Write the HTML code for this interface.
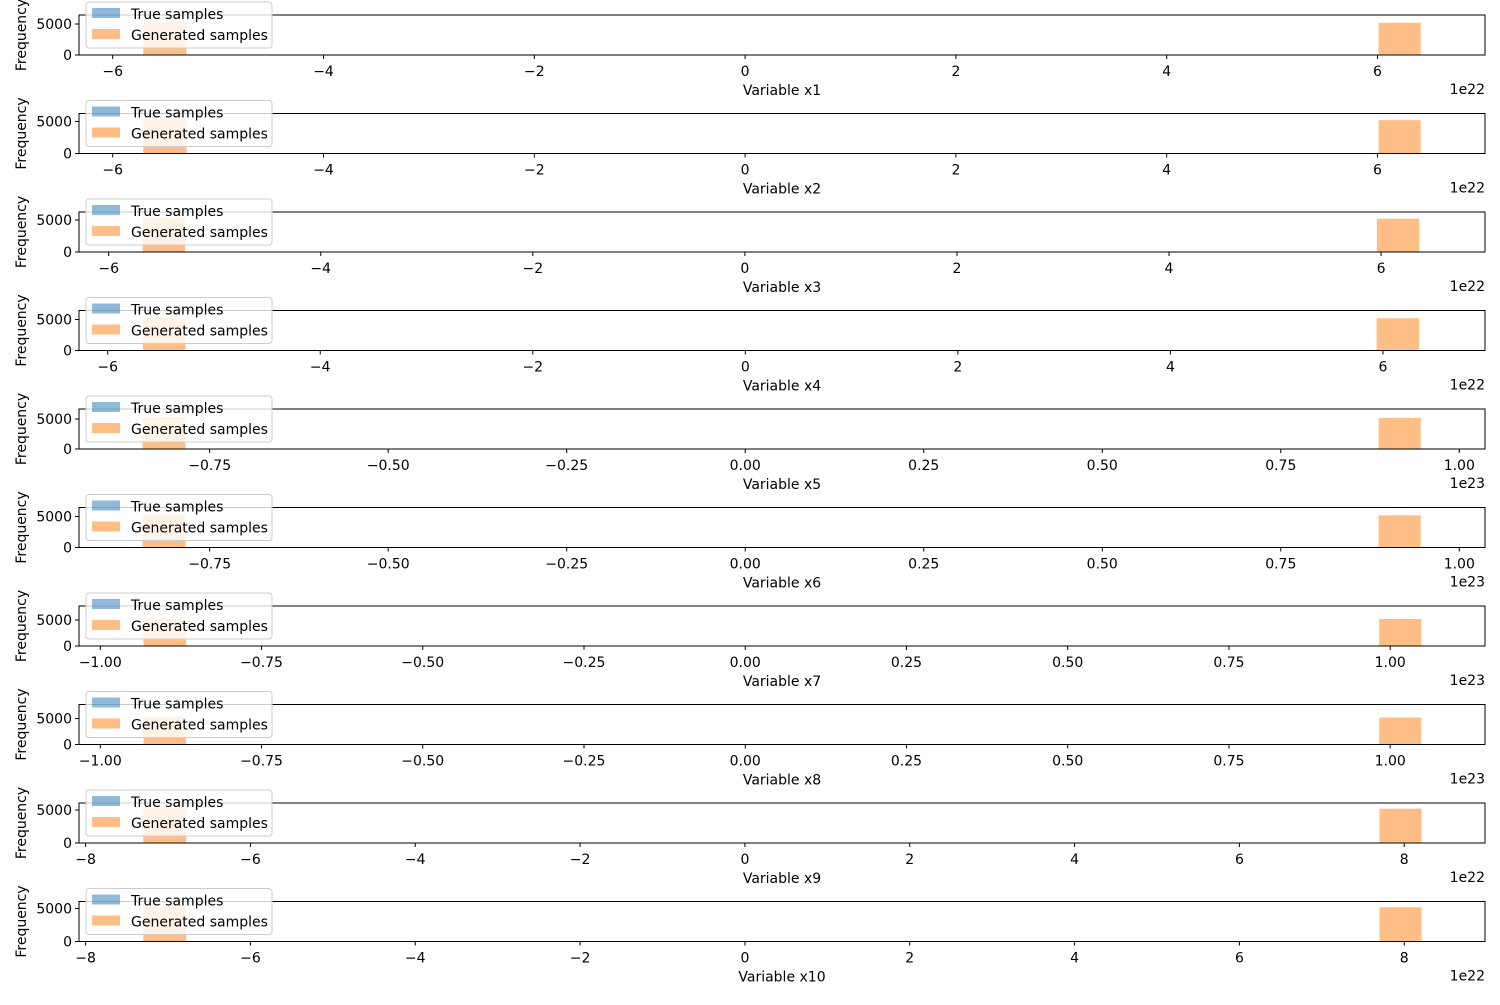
<!DOCTYPE html>
<html><head><meta charset="utf-8"><style>
body{margin:0;background:#fff}
svg text{font-family:"DejaVu Sans","Liberation Sans",sans-serif;font-size:14px;fill:#000}
</style></head><body>
<svg id="chart" width="1500" height="1000" xmlns="http://www.w3.org/2000/svg"></svg>
<script>
// per-row data
const rowLabels = ["Variable x1","Variable x2","Variable x3","Variable x4","Variable x5","Variable x6","Variable x7","Variable x8","Variable x9","Variable x10"];
const xDomains = [[-6.32,7.02],[-6.32,7.02],[-6.28,6.98],[-6.27,6.96],[-0.933,1.036],[-0.933,1.036],[-1.033,1.147],[-1.033,1.147],[-8.08,8.98],[-8.08,8.98]];
const xTicks = [
 [-6,-4,-2,0,2,4,6],[-6,-4,-2,0,2,4,6],[-6,-4,-2,0,2,4,6],[-6,-4,-2,0,2,4,6],
 [-0.75,-0.5,-0.25,0,0.25,0.5,0.75,1.0],[-0.75,-0.5,-0.25,0,0.25,0.5,0.75,1.0],
 [-1.0,-0.75,-0.5,-0.25,0,0.25,0.5,0.75,1.0],[-1.0,-0.75,-0.5,-0.25,0,0.25,0.5,0.75,1.0],
 [-8,-6,-4,-2,0,2,4,6,8],[-8,-6,-4,-2,0,2,4,6,8]];
const tickDecimals = [0,0,0,0,2,2,2,2,0,0];
const offsetTexts = ["1e22","1e22","1e22","1e22","1e23","1e23","1e23","1e23","1e22","1e22"];
const yMax = [6450,6250,6250,6450,6670,6450,7700,7700,6060,6060];
const genBinEdges = [
 [[-5.71,-5.30],[6.01,6.41]],[[-5.71,-5.30],[6.01,6.41]],[[-5.68,-5.28],[5.96,6.36]],[[-5.67,-5.27],[5.94,6.34]],
 [[-0.844,-0.784],[0.887,0.946]],[[-0.844,-0.784],[0.887,0.946]],
 [[-0.933,-0.867],[0.983,1.048]],[[-0.933,-0.867],[0.983,1.048]],
 [[-7.30,-6.78],[7.70,8.21]],[[-7.30,-6.78],[7.70,8.21]]];
const genCounts = [[5300,5200],[5300,5200],[5300,5200],[5300,5200],[5300,5200],[5300,5200],[5300,5200],[5300,5200],[5300,5200],[5300,5200]];

const svg = document.getElementById('chart');
const NS = 'http://www.w3.org/2000/svg';
function mk(tag, attrs, parent){const e=document.createElementNS(NS,tag);for(const k in attrs)e.setAttribute(k,attrs[k]);(parent||svg).appendChild(e);return e;}
const L=79,R=1485,H=40;
rowLabels.forEach((lab,i)=>{
  const top=15+i*98.5, bot=top+H;
  const g=mk('g',{});
  
  
  const [d0,d1]=xDomains[i];
  const xs=v=>L+(v-d0)/(d1-d0)*(R-L);
  const ys=v=>bot-v/yMax[i]*H;
  genBinEdges[i].forEach((b,j)=>{
    const r=mk('rect',{x:xs(b[0]),y:ys(genCounts[i][j]),width:xs(b[1])-xs(b[0]),height:bot-ys(genCounts[i][j]),fill:'#ffbe86'},g);
    
    
  });
  const fr=mk('rect',{x:L,y:top,width:R-L,height:H,fill:'none',stroke:'#000','stroke-width':1},g);
  
  
  xTicks[i].forEach(t=>{
    const x=xs(t);
    mk('line',{x1:x,x2:x,y1:bot,y2:bot+4,stroke:'#000'},g);
    const s=(t<0?'\u2212':'')+Math.abs(t).toFixed(tickDecimals[i]);
    const tx=mk('text',{x:x,y:bot+21,'text-anchor':'middle'},g);tx.textContent=s;
    
    
  });
  [0,5000].forEach(t=>{
    const y=ys(t);
    mk('line',{x1:L-4,x2:L,y1:y,y2:y,stroke:'#000'},g);
    const tx=mk('text',{x:L-7,y:y+5,'text-anchor':'end'},g);tx.textContent=t;
    
    
  });
  const xl=mk('text',{x:(L+R)/2,y:bot+40,'text-anchor':'middle'},g);xl.textContent=lab;
  
  
  const ot=mk('text',{x:R,y:bot+39,'text-anchor':'end'},g);ot.textContent=offsetTexts[i];
  
  
  const yl=mk('text',{x:26,y:bot-20,'text-anchor':'middle',transform:`rotate(-90 26 ${bot-20})`},g);yl.textContent='Frequency';
  
  
  const lg=mk('g',{},g);
  
  
  mk('rect',{x:86,y:top-13,width:186,height:46,rx:3,fill:'#fff','fill-opacity':0.8,stroke:'#ccc'},lg);
  mk('rect',{x:92,y:top-7,width:28,height:10,fill:'#1f77b4','fill-opacity':0.5},lg);
  mk('rect',{x:92,y:top+14,width:28,height:10,fill:'#ffbe86'},lg);
  const l1=mk('text',{x:131,y:top+4},lg);l1.textContent='True samples';
  
  
  const l2=mk('text',{x:131,y:top+25},lg);l2.textContent='Generated samples';
  
  
});
</script>
</body></html>
